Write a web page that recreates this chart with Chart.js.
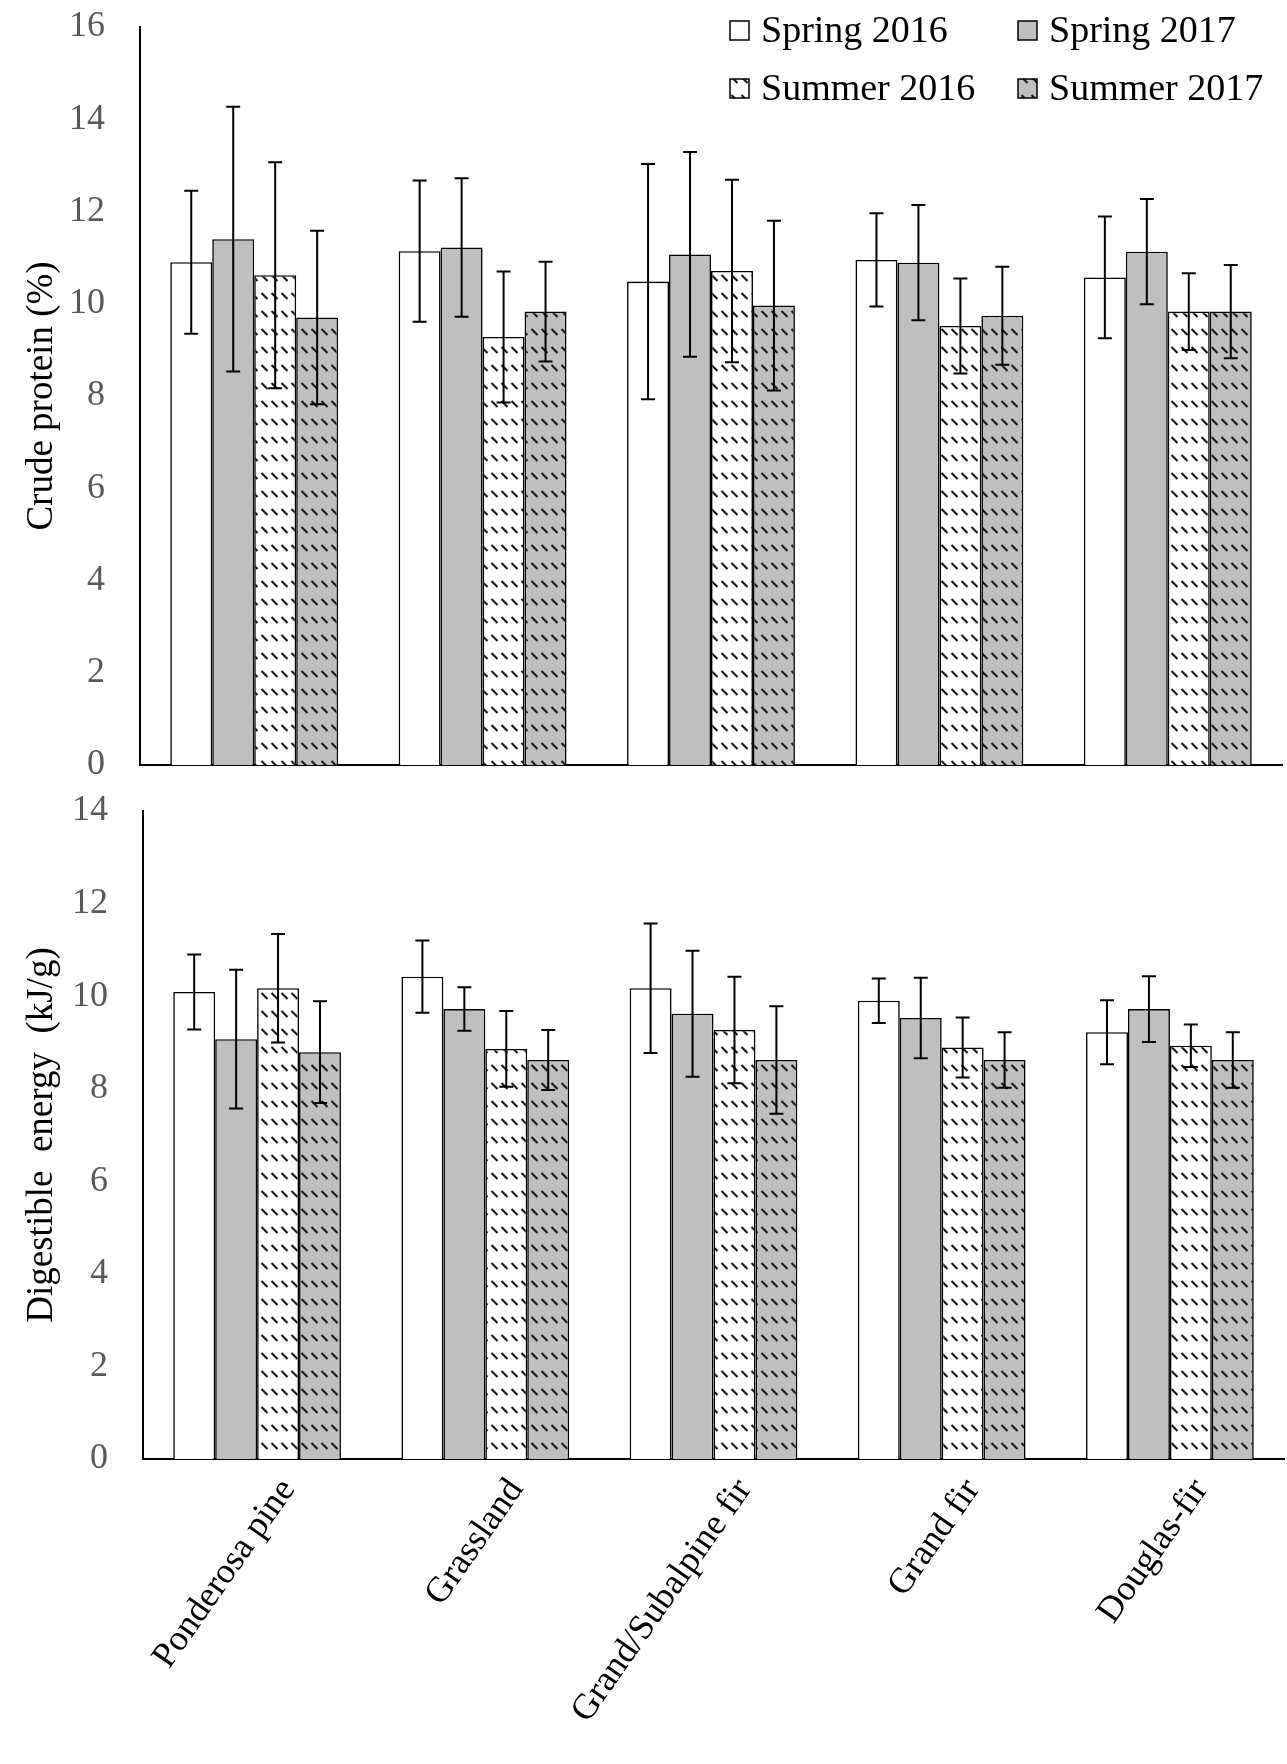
<!DOCTYPE html>
<html>
<head>
<meta charset="utf-8">
<script src="https://cdn.jsdelivr.net/npm/chart.js@4.4.1/dist/chart.umd.min.js"></script>
<style>
  html, body { margin: 0; padding: 0; background: #ffffff; }
  body { width: 1287px; height: 1764px; position: relative; overflow: hidden; }
  canvas { position: absolute; left: 0; }
  #top { top: 0; }
  #bottom { top: 790px; }
</style>
</head>
<body>
<canvas id="top" width="1287" height="790"></canvas>
<canvas id="bottom" width="1287" height="974"></canvas>
<script>
// ---------- Data ----------
const categories = ['Ponderosa pine', 'Grassland', 'Grand/Subalpine fir', 'Grand fir', 'Douglas-fir'];
const seriesNames = ['Spring 2016', 'Spring 2017', 'Summer 2016', 'Summer 2017'];

// Crude protein (%)
const cpSpring2016 = [10.90, 11.14, 10.48, 10.95, 10.57];
const cpSpring2016Err = [1.55, 1.53, 2.55, 1.01, 1.32];
const cpSpring2017 = [11.40, 11.22, 11.07, 10.89, 11.13];
const cpSpring2017Err = [2.87, 1.50, 2.22, 1.25, 1.14];
const cpSummer2016 = [10.62, 9.28, 10.71, 9.52, 9.83];
const cpSummer2016Err = [2.45, 1.42, 1.98, 1.03, 0.83];
const cpSummer2017 = [9.70, 9.83, 9.96, 9.74, 9.83];
const cpSummer2017Err = [1.88, 1.08, 1.84, 1.06, 1.01];

// Digestible energy (kJ/g)
const deSpring2016 = [10.09, 10.42, 10.17, 9.90, 9.22];
const deSpring2016Err = [0.81, 0.78, 1.40, 0.48, 0.69];
const deSpring2017 = [9.07, 9.72, 9.62, 9.53, 9.72];
const deSpring2017Err = [1.50, 0.47, 1.36, 0.87, 0.71];
const deSummer2016 = [10.17, 8.86, 9.27, 8.89, 8.93];
const deSummer2016Err = [1.17, 0.82, 1.15, 0.65, 0.46];
const deSummer2017 = [8.79, 8.62, 8.62, 8.62, 8.62];
const deSummer2017Err = [1.10, 0.65, 1.16, 0.60, 0.60];

const cpTicks = [0, 2, 4, 6, 8, 10, 12, 14, 16];
const deTicks = [0, 2, 4, 6, 8, 10, 12, 14];

// ---------- Styles ----------
const GREY = '#BFBFBF';
const FONT = '"Liberation Serif", "Times New Roman", serif';

function makeHatch(bg) {
  const c = document.createElement('canvas');
  c.width = 10; c.height = 18;
  const g = c.getContext('2d');
  g.fillStyle = bg;
  g.fillRect(0, 0, 10, 18);
  g.strokeStyle = '#1a1a1a';
  g.lineWidth = 2.1;
  g.lineCap = 'butt';
  g.beginPath();
  g.moveTo(1.5, 5);
  g.lineTo(7.5, 11);
  g.stroke();
  return g.createPattern(c, 'repeat');
}
const fills = ['#ffffff', GREY, makeHatch('#ffffff'), makeHatch(GREY)];

function buildDatasets(vals, errs) {
  return vals.map((v, i) => ({
    label: seriesNames[i],
    data: v,
    errors: errs[i],
    backgroundColor: fills[i],
    borderColor: '#000',
    borderWidth: 1.6,
    borderSkipped: 'bottom',
    categoryPercentage: 0.735,
    barPercentage: 1.0
  }));
}

const errorBarPlugin = {
  id: 'errorBars',
  afterDatasetsDraw(chart) {
    const ctx = chart.ctx;
    const ys = chart.scales.y;
    ctx.save();
    ctx.strokeStyle = '#000';
    ctx.lineWidth = 2;
    chart.data.datasets.forEach((ds, di) => {
      const meta = chart.getDatasetMeta(di);
      meta.data.forEach((bar, j) => {
        const v = ds.data[j], e = ds.errors[j];
        const x = bar.x;
        const yt = ys.getPixelForValue(v + e);
        const yb = ys.getPixelForValue(v - e);
        ctx.beginPath();
        ctx.moveTo(x, yt); ctx.lineTo(x, yb);
        ctx.moveTo(x - 7, yt); ctx.lineTo(x + 7, yt);
        ctx.moveTo(x - 7, yb); ctx.lineTo(x + 7, yb);
        ctx.stroke();
      });
    });
    ctx.restore();
  }
};

const legendPlugin = {
  id: 'gridLegend',
  afterDraw(chart) {
    const ctx = chart.ctx;
    const cols = [730, 1018];
    const rows = [30, 88];
    ctx.save();
    ctx.font = '38px ' + FONT;
    ctx.textBaseline = 'middle';
    chart.data.datasets.forEach((ds, i) => {
      const bx = cols[i % 2], by = rows[Math.floor(i / 2)];
      ctx.fillStyle = ds.backgroundColor;
      ctx.fillRect(bx, by - 9, 19, 19);
      ctx.strokeStyle = '#000';
      ctx.lineWidth = 1.5;
      ctx.strokeRect(bx, by - 9, 19, 19);
      ctx.fillStyle = '#000';
      ctx.fillText(ds.label, bx + 31, by + 2);
    });
    ctx.restore();
  }
};

function yScale(max, ticks, title, width) {
  return {
    min: 0, max: max,
    afterBuildTicks(s) { s.ticks = ticks.map(v => ({ value: v })); },
    afterFit(s) { s.width = width; s.paddingTop = 0; s.paddingBottom = 0; },
    grid: { display: false, drawTicks: false },
    border: { display: true, color: '#000', width: 2 },
    ticks: { color: '#595959', font: { family: FONT, size: 36 }, padding: 35 },
    title: { display: true, text: title, color: '#000', font: { family: FONT, size: 37 }, padding: { top: 20, bottom: 0 } }
  };
}

Chart.defaults.font.family = FONT;

new Chart(document.getElementById('top'), {
  type: 'bar',
  data: { labels: categories, datasets: buildDatasets(
    [cpSpring2016, cpSpring2017, cpSummer2016, cpSummer2017],
    [cpSpring2016Err, cpSpring2017Err, cpSummer2016Err, cpSummer2017Err]) },
  options: {
    responsive: false, animation: false, devicePixelRatio: 1,
    layout: { padding: { top: 27, right: 5, left: 0, bottom: 0 } },
    plugins: { legend: { display: false }, tooltip: { enabled: false } },
    scales: {
      x: {
        grid: { display: false, drawTicks: false },
        border: { display: true, color: '#000', width: 2 },
        ticks: { display: false },
        afterFit(s) { s.height = 25; s.paddingLeft = 0; s.paddingRight = 0; }
      },
      y: yScale(16, cpTicks, 'Crude protein (%)', 140)
    }
  },
  plugins: [errorBarPlugin, legendPlugin]
});

new Chart(document.getElementById('bottom'), {
  type: 'bar',
  data: { labels: categories, datasets: buildDatasets(
    [deSpring2016, deSpring2017, deSummer2016, deSummer2017],
    [deSpring2016Err, deSpring2017Err, deSummer2016Err, deSummer2017Err]) },
  options: {
    responsive: false, animation: false, devicePixelRatio: 1,
    layout: { padding: { top: 21, right: 3, left: 0, bottom: 0 } },
    plugins: { legend: { display: false }, tooltip: { enabled: false } },
    scales: {
      x: {
        grid: { display: false, drawTicks: false },
        border: { display: true, color: '#000', width: 2 },
        ticks: { color: '#000', font: { family: FONT, size: 36 }, minRotation: 55, maxRotation: 55, padding: 12, labelOffset: 31, autoSkip: false },
        afterFit(s) { s.height = 305; s.paddingLeft = 0; s.paddingRight = 0; }
      },
      y: yScale(14, deTicks, 'Digestible  energy  (kJ/g)', 143)
    }
  },
  plugins: [errorBarPlugin]
});
</script>
</body>
</html>
